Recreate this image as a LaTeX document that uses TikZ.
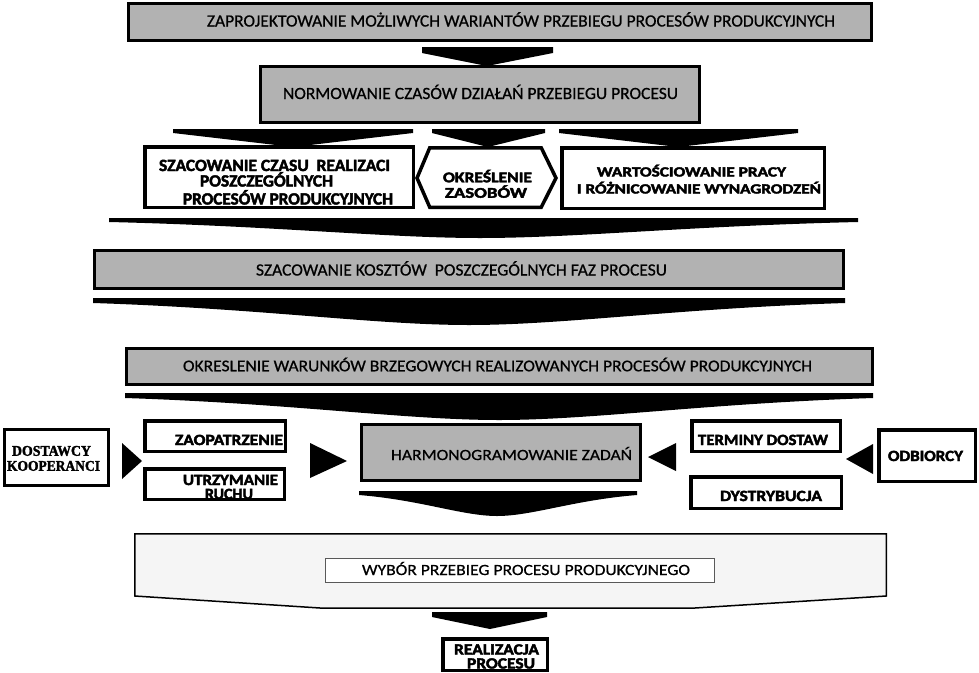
\documentclass[tikz,border=0pt]{standalone}
\usepackage{fontspec}
\usepackage{graphicx}
\setmainfont{Carlito}
\newfontfamily\gtf{Carlito}[BoldFont={Carlito}, BoldFeatures={FakeBold=0.7}]
\newfontfamily\hvy{Carlito}[BoldFeatures={FakeBold=2.5}]
\newfontfamily\srf{Liberation Serif}[BoldFeatures={FakeBold=2}]
\newcommand{\fitbox}[3]{\resizebox{#1pt}{#2pt}{\smash{#3}\vrule height\fontcharht\font`\H width 0pt}}
\newcommand{\bt}{\hvy\bfseries}
\newcommand{\gt}{\gtf\bfseries}
\tikzset{
  gbox/.style={draw=black, line width=3pt, fill=gray!60, inner sep=0pt},
  wbox/.style={draw=black, line width=3.5pt, fill=white, inner sep=0pt},
  lbl/.style={inner sep=0pt, anchor=center},
  blk/.style={fill=black},
}
\begin{document}
\begin{tikzpicture}[x=1pt,y=-1pt]
\useasboundingbox (0,0) rectangle (979,672);
% ---------- block arrows ----------
\fill[blk] (422,47) -- (553,47) -- (553,53) -- (487,66) -- (422,53) -- cycle;
\fill[blk] (173,129) -- (413,129) -- (413,133) -- (293,147) -- (173,133) -- cycle;
\fill[blk] (432,129) -- (545,129) -- (545,133) -- (488,147) -- (432,133) -- cycle;
\fill[blk] (559,129) -- (798,129) -- (798,133) -- (678,147) -- (559,133) -- cycle;
\fill[blk] (109,218) -- (858,218) -- (858,222) .. controls (688,226) and (575,238) .. (480,238)
   .. controls (387,238) and (276,226) .. (109,222) -- cycle;
\fill[blk] (93,298) -- (845,298) -- (845,303) .. controls (676,308.5) and (563,325) .. (469,325)
   .. controls (375,325) and (262,308.5) .. (93,303) -- cycle;
\fill[blk] (125,393) -- (873,393) -- (873,398) .. controls (705,403.5) and (592.5,420) .. (499,420)
   .. controls (405.5,420) and (293,403.5) .. (125,398) -- cycle;
\fill[blk] (359,491) -- (637,491) -- (637,495) .. controls (574,500) and (532,516) .. (497,516)
   .. controls (462.5,516) and (421,500) .. (359,495) -- cycle;
\fill[blk] (432,612) -- (547,612) -- (547,617) -- (490,629) -- (432,617) -- cycle;
% side triangles
\fill[blk] (122,443) -- (142,461) -- (122,479) -- cycle;
\fill[blk] (310,443) -- (347,461) -- (310,478) -- cycle;
\fill[blk] (676,443) -- (648,457) -- (676,471) -- cycle;
\fill[blk] (873,444) -- (846,459) -- (873,474) -- cycle;
% ---------- boxes ----------
\node[gbox, minimum width=743pt, minimum height=37pt] (b1) at (500,22) {};
\node[gbox, minimum width=439pt, minimum height=56pt] (b2) at (480,94.5) {};
\node[wbox, minimum width=268.5pt, minimum height=60.5pt] (b3l) at (279,177) {};
\draw[line width=3.5pt, fill=white] (429.75,147.75) -- (541.25,147.75) -- (556,178) -- (541.25,207.25) -- (429.75,207.25) -- (417,178) -- cycle;
\node[wbox, minimum width=262.5pt, minimum height=60.5pt] (b3r) at (693,178) {};
\node[gbox, minimum width=749pt, minimum height=38pt] (b4) at (469,269.5) {};
\node[gbox, minimum width=746pt, minimum height=36pt] (b5) at (499.5,366.5) {};
\node[wbox, line width=3pt, minimum width=104pt, minimum height=56pt] (dost) at (56.5,457.5) {};
\node[wbox, minimum width=140.5pt, minimum height=30.5pt] (zaop) at (215,436) {};
\node[wbox, minimum width=139.5pt, minimum height=30.5pt] (utrz) at (214.5,484) {};
\node[gbox, minimum width=279pt, minimum height=56pt] (harm) at (501,452.5) {};
\node[wbox, minimum width=148.5pt, minimum height=30.5pt] (term) at (766,436) {};
\node[wbox, minimum width=150.5pt, minimum height=31.5pt] (dyst) at (766,492.5) {};
\node[wbox, minimum width=96.5pt, minimum height=51.5pt] (odb) at (927,455.5) {};
\draw[line width=1.5pt, fill=gray!8] (134.75,533.75) -- (886.25,533.75) -- (886.25,596) -- (695,608) -- (320,608) -- (134.75,596) -- cycle;
\node[draw=black!65, line width=1pt, fill=white, inner sep=0pt, minimum width=389pt, minimum height=24pt] (wyb) at (520,570.5) {};
\node[wbox, minimum width=104.5pt, minimum height=31.5pt] (real) at (495,654.5) {};
% ---------- labels ----------
\node[lbl] (t1) at (521,21) {\fitbox{628}{11}{\gt ZAPROJEKTOWANIE MOŻLIWYCH WARIANTÓW PRZEBIEGU PROCESÓW PRODUKCYJNYCH}};
\node[lbl] (t2) at (480.5,93.5) {\fitbox{395}{11}{\gt NORMOWANIE CZASÓW DZIAŁAŃ PRZEBIEGU PROCESU}};
\node[lbl] (t3a) at (274.5,165.5) {\fitbox{231}{11}{\bt SZACOWANIE CZASU \ REALIZACI}};
\node[lbl] (t3b) at (266.5,181) {\fitbox{133}{11}{\bt POSZCZEGÓLNYCH}};
\node[lbl] (t3c) at (288,199) {\fitbox{210}{11}{\bt PROCESÓW PRODUKCYJNYCH}};
\node[lbl] (t4a) at (487.5,177.5) {\fitbox{89}{9.5}{\bt OKREŚLENIE}};
\node[lbl] (t4b) at (486,193) {\fitbox{82}{9.5}{\bt ZASOBÓW}};
\node[lbl] (t5a) at (691.5,172) {\fitbox{189}{9}{\bt WARTOŚCIOWANIE PRACY}};
\node[lbl] (t5b) at (699,189) {\fitbox{244}{9}{\bt I RÓŻNICOWANIE WYNAGRODZEŃ}};
\node[lbl] (t6) at (461.5,270) {\fitbox{411}{11}{\gt SZACOWANIE KOSZTÓW \ POSZCZEGÓLNYCH FAZ PROCESU}};
\node[lbl] (t7) at (497.5,366) {\fitbox{629}{10.5}{\gt OKRESLENIE WARUNKÓW BRZEGOWYCH REALIZOWANYCH PROCESÓW PRODUKCYJNYCH}};
\node[lbl] (t8a) at (51.5,451) {\fitbox{79}{9.5}{\srf\bfseries DOSTAWCY}};
\node[lbl] (t8b) at (53.5,466) {\fitbox{93}{9.5}{\srf\bfseries KOOPERANCI}};
\node[lbl] (t9) at (229,440) {\fitbox{108}{10}{\bt ZAOPATRZENIE}};
\node[lbl] (t10a) at (230.5,480) {\fitbox{95}{10}{\bt UTRZYMANIE}};
\node[lbl] (t10b) at (229,494) {\fitbox{48}{10}{\bt RUCHU}};
\node[lbl] (t11) at (511.5,455) {\fitbox{241}{10}{\gt HARMONOGRAMOWANIE ZADAŃ}};
\node[lbl] (t12) at (763,440) {\fitbox{130}{10}{\bt TERMINY DOSTAW}};
\node[lbl] (t13) at (771,496) {\fitbox{102}{10}{\bt DYSTRYBUCJA}};
\node[lbl] (t14) at (925.5,456) {\fitbox{75}{10}{\bt ODBIORCY}};
\node[lbl] (t15) at (526,570) {\fitbox{328}{10}{\gt WYBÓR PRZEBIEG PROCESU PRODUKCYJNEGO}};
\node[lbl] (t16a) at (496.5,649.5) {\fitbox{85}{10}{\bt REALIZACJA}};
\node[lbl] (t16b) at (501,663.5) {\fitbox{68}{10}{\bt PROCESU}};
\end{tikzpicture}
\end{document}
